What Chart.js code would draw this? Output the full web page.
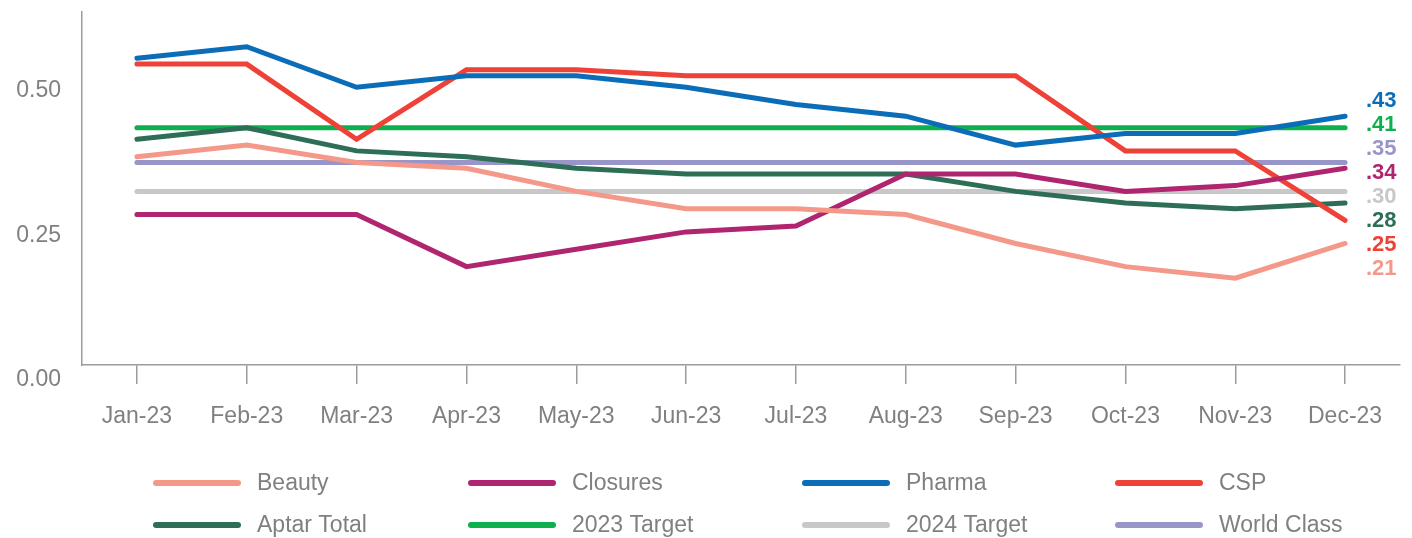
<!DOCTYPE html>
<html>
<head>
<meta charset="utf-8">
<script src="https://cdn.jsdelivr.net/npm/chart.js@4.4.1/dist/chart.umd.min.js"></script>
<style>
  html, body { margin: 0; padding: 0; background: #fff; }
  #wrap { width: 1412px; height: 538px; position: relative; }
</style>
</head>
<body>
<div id="wrap"><canvas id="c" width="1412" height="538"></canvas></div>
<script>
const categories = ['Jan-23','Feb-23','Mar-23','Apr-23','May-23','Jun-23','Jul-23','Aug-23','Sep-23','Oct-23','Nov-23','Dec-23'];
const yTickValues = [0, 0.25, 0.5];

const beauty     = [0.36, 0.38, 0.35, 0.34, 0.30, 0.27, 0.27, 0.26, 0.21, 0.17, 0.15, 0.21];
const closures   = [0.26, 0.26, 0.26, 0.17, 0.20, 0.23, 0.24, 0.33, 0.33, 0.30, 0.31, 0.34];
const pharma     = [0.53, 0.55, 0.48, 0.50, 0.50, 0.48, 0.45, 0.43, 0.38, 0.40, 0.40, 0.43];
const csp        = [0.52, 0.52, 0.39, 0.51, 0.51, 0.50, 0.50, 0.50, 0.50, 0.37, 0.37, 0.25];
const aptarTotal = [0.39, 0.41, 0.37, 0.36, 0.34, 0.33, 0.33, 0.33, 0.30, 0.28, 0.27, 0.28];
const target2023 = [0.41, 0.41, 0.41, 0.41, 0.41, 0.41, 0.41, 0.41, 0.41, 0.41, 0.41, 0.41];
const target2024 = [0.30, 0.30, 0.30, 0.30, 0.30, 0.30, 0.30, 0.30, 0.30, 0.30, 0.30, 0.30];
const worldClass = [0.35, 0.35, 0.35, 0.35, 0.35, 0.35, 0.35, 0.35, 0.35, 0.35, 0.35, 0.35];

const seriesNames  = ['Beauty','Closures','Pharma','CSP','Aptar Total','2023 Target','2024 Target','World Class'];
const seriesValues = [beauty, closures, pharma, csp, aptarTotal, target2023, target2024, worldClass];
const seriesColors = ['#F4988A','#B0256F','#0B6DB7','#EE4238','#2E6E56','#0CB04D','#C8C8C8','#9896C8'];

const FONT = '"Liberation Sans", Arial, Helvetica, sans-serif';
const GRAY = '#808080';
const AXIS = '#9c9c9c';

const datasets = seriesNames.map((n, i) => ({
  label: n,
  data: seriesValues[i],
  borderColor: seriesColors[i],
  backgroundColor: seriesColors[i],
  borderWidth: 5,
  borderCapStyle: 'round',
  borderJoinStyle: 'miter',
  pointRadius: 0,
  pointHoverRadius: 0,
  tension: 0,
  fill: false
}));

const endLabels = {
  id: 'endLabels',
  afterDatasetsDraw(chart) {
    const ctx = chart.ctx;
    const y = chart.scales.y;
    const items = chart.data.datasets.map(ds => ({ v: ds.data[ds.data.length - 1], c: ds.borderColor }));
    items.sort((a, b) => b.v - a.v);
    const startY = y.getPixelForValue(items[0].v) - 15;
    ctx.save();
    ctx.font = 'bold 22px ' + FONT;
    ctx.textAlign = 'left';
    ctx.textBaseline = 'middle';
    items.forEach((it, k) => {
      ctx.fillStyle = it.c;
      ctx.fillText('.' + Math.round(it.v * 100).toString().padStart(2, '0'), 1366, startY + k * 24);
    });
    ctx.restore();
  }
};

const gridLegend = {
  id: 'gridLegend',
  afterDraw(chart) {
    const ctx = chart.ctx;
    const colX = [153, 468, 802, 1115];
    const rowY = [483, 525];
    ctx.save();
    ctx.font = '23px ' + FONT;
    ctx.textBaseline = 'middle';
    ctx.textAlign = 'left';
    chart.data.datasets.forEach((ds, i) => {
      const cx = colX[i % 4], cy = rowY[Math.floor(i / 4)];
      ctx.strokeStyle = ds.borderColor;
      ctx.lineWidth = 6;
      ctx.lineCap = 'round';
      ctx.beginPath();
      ctx.moveTo(cx + 3, cy);
      ctx.lineTo(cx + 85, cy);
      ctx.stroke();
      ctx.fillStyle = GRAY;
      ctx.fillText(ds.label, cx + 104, cy + 1);
    });
    ctx.restore();
  }
};

new Chart(document.getElementById('c'), {
  type: 'line',
  data: { labels: categories, datasets },
  options: {
    responsive: false,
    animation: false,
    layout: { padding: { top: 12, right: 12, bottom: 93, left: 0 } },
    plugins: { legend: { display: false }, tooltip: { enabled: false } },
    scales: {
      x: {
        offset: true,
        grid: { display: true, drawOnChartArea: false, drawTicks: true, tickLength: 19, color: AXIS, lineWidth: 1.5, offset: false },
        border: { display: true, color: AXIS, width: 1.5 },
        ticks: { color: GRAY, font: { family: FONT, size: 23 }, padding: 19, maxRotation: 0, autoSkip: false },
        afterFit(s) { s.height = 80; s.paddingLeft = 0; s.paddingRight = 0; }
      },
      y: {
        min: 0,
        max: 0.61,
        grid: { display: false, drawTicks: false },
        border: { display: true, color: AXIS, width: 1.5 },
        afterBuildTicks(s) { s.ticks = yTickValues.map(v => ({ value: v })); },
        ticks: {
          color: GRAY,
          font: { family: FONT, size: 23 },
          padding: 21,
          labelOffset: 15,
          callback: v => Number(v).toFixed(2)
        },
        afterFit(s) { s.width = 82; s.paddingTop = 0; s.paddingBottom = 0; }
      }
    }
  },
  plugins: [endLabels, gridLegend]
});
</script>
</body>
</html>
